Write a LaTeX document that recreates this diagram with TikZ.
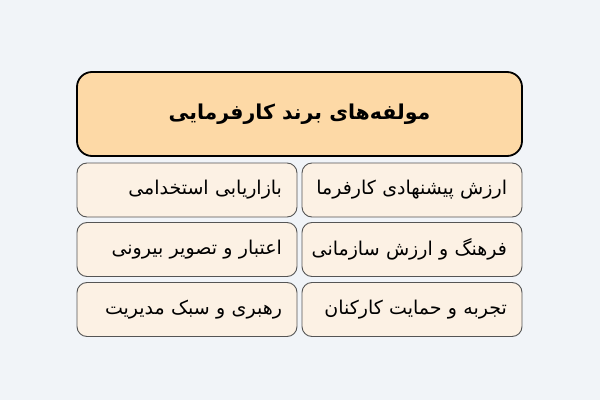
\documentclass[tikz,border=0pt]{standalone}
\usepackage{fontspec}
\TeXXeTstate=1
\newfontfamily\arabicfont[Script=Arabic]{DejaVu Sans}
\definecolor{bgc}{HTML}{F1F4F8}
\definecolor{titlefill}{HTML}{FDD9A6}
\definecolor{itemfill}{HTML}{FCF1E4}
\definecolor{itemdraw}{HTML}{555555}
\newcommand{\rtltext}[1]{\makebox[0pt][r]{\beginR #1\endR}}
\tikzset{
  titlebox/.style={draw=black, line width=1.8pt, fill=titlefill, rounded corners=15pt,
    minimum width=445pt, minimum height=84pt, font=\arabicfont\bfseries\fontsize{20.5}{24}\selectfont},
  itembox/.style={draw=itemdraw, line width=0.9pt, fill=itemfill, rounded corners=10pt,
    minimum width=220pt, minimum height=54pt, inner xsep=15pt, text width=190pt, align=right,
    font=\arabicfont\fontsize{19}{22}\selectfont}
}
\begin{document}
\begin{tikzpicture}[x=1pt,y=1pt]
\fill[bgc] (0,0) rectangle (600,400);
\useasboundingbox (0,0) rectangle (600,400);
\node[titlebox] (title) at (299.5,286) {\beginR مولفه‌های برند کارفرمایی\endR};
\node[itembox] (r1) at (412,210) {\rtltext{ارزش پیشنهادی کارفرما}};
\node[itembox] (l1) at (187,210) {\rtltext{بازاریابی استخدامی}};
\node[itembox] (r2) at (412,150.5) {\rtltext{فرهنگ و ارزش سازمانی}};
\node[itembox] (l2) at (187,150.5) {\rtltext{اعتبار و تصویر بیرونی}};
\node[itembox] (r3) at (412,90.5) {\rtltext{تجربه و حمایت کارکنان}};
\node[itembox] (l3) at (187,90.5) {\rtltext{رهبری و سبک مدیریت}};
\end{tikzpicture}
\end{document}
